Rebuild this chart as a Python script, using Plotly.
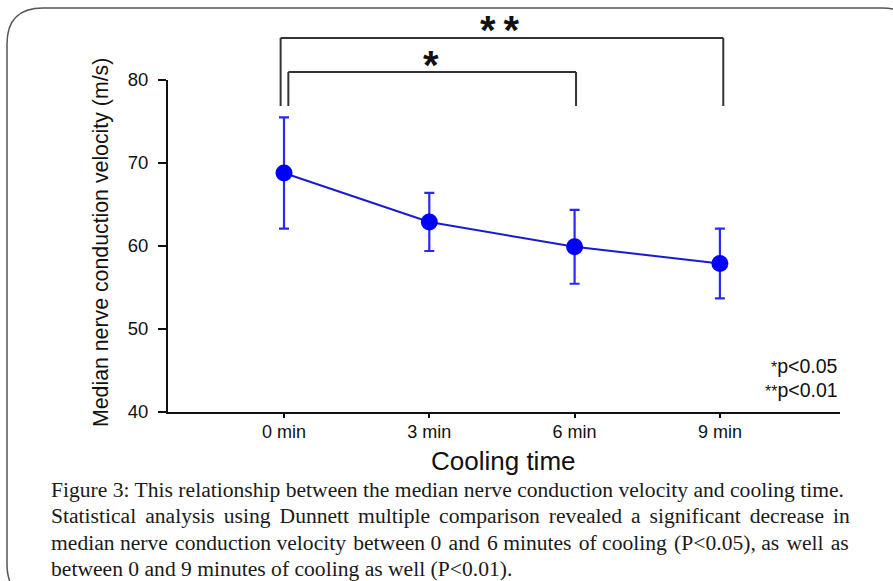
import plotly.graph_objects as go

# ---- data ----
cooling_minutes = [0, 3, 6, 9]
tick_labels = ["0 min", "3 min", "6 min", "9 min"]
mean_velocity = [68.8, 62.9, 59.9, 57.9]
sd_velocity = [6.7, 3.5, 4.45, 4.2]
y_ticks = [40, 50, 60, 70, 80]

caption_lines = [
    "Figure 3: This relationship between the median nerve conduction velocity and cooling time.",
    "Statistical analysis using Dunnett multiple comparison revealed a significant decrease in",
    "median nerve conduction velocity between 0 and 6 minutes of cooling (P<0.05), as well as",
    "between 0 and 9 minutes of cooling as well (P<0.01).",
]
caption_hair_spaces = [0, 20, 8, 0]  # total hair spaces spread over word gaps (justification)

W, H = 893, 581
L, R, T, B = 168, 53, 80, 169
PW, PH = W - L - R, H - T - B


def px_x(px):
    return (px - L) / PW


def px_y(py):
    return (H - B - py) / PH


def justify(line, n):
    words = line.split(" ")
    g = len(words) - 1
    if n == 0 or g == 0:
        return line
    out = words[0]
    for i in range(g):
        k = (i + 1) * n // g - i * n // g
        out += " " + "\u200a" * k + words[i + 1]
    return out


fig = go.Figure()
fig.add_trace(go.Scatter(
    x=cooling_minutes, y=mean_velocity,
    mode="lines+markers",
    line=dict(color="#1a1ad0", width=2),
    marker=dict(color="#0000ff", size=17),
    error_y=dict(type="data", array=sd_velocity, visible=True,
                 color="#2a2aee", thickness=2.2, width=5),
    showlegend=False, cliponaxis=False,
))

font_sans = "Liberation Sans, Arial, sans-serif"

fig.update_layout(
    width=W, height=H,
    margin=dict(l=L, r=R, t=T, b=B, autoexpand=False),
    paper_bgcolor="white", plot_bgcolor="white",
    xaxis=dict(range=[-2.395, 11.48], tickvals=cooling_minutes, ticktext=tick_labels,
               showgrid=False, zeroline=False, showline=True, linecolor="#111",
               linewidth=2, ticks="outside", ticklen=4, tickwidth=2, tickcolor="#111",
               ticklabelstandoff=-2,
               tickfont=dict(family=font_sans, size=18, color="#111")),
    yaxis=dict(range=[40, 80], tickvals=y_ticks, showgrid=False, zeroline=False,
               showline=True, linecolor="#111", linewidth=2, ticks="outside",
               ticklen=8, tickwidth=2, tickcolor="#111", ticklabelstandoff=6,
               tickfont=dict(family=font_sans, size=18.5, color="#111")),
)

ann = []
# axis titles
ann.append(dict(text="Median nerve conduction velocity (m/s)", textangle=-90,
                xref="paper", yref="paper", x=px_x(101), y=px_y(243),
                xanchor="center", yanchor="middle", showarrow=False,
                font=dict(family=font_sans, size=21.3, color="#111")))
ann.append(dict(text="Cooling time", xref="paper", yref="paper",
                x=px_x(503), y=px_y(461), xanchor="center", yanchor="middle",
                showarrow=False, font=dict(family=font_sans, size=26, color="#111")))
# p-value legend
ann.append(dict(text="<span style='font-size:16px'>*</span>p&lt;0.05", xref="paper", yref="paper",
                x=px_x(840), y=px_y(366), xanchor="right", yanchor="middle",
                showarrow=False, font=dict(family=font_sans, size=19.5, color="#111")))
ann.append(dict(text="<span style='font-size:16px'>**</span>p&lt;0.01", xref="paper", yref="paper",
                x=px_x(840), y=px_y(390), xanchor="right", yanchor="middle",
                showarrow=False, font=dict(family=font_sans, size=19.5, color="#111")))
# significance stars
ann.append(dict(text="<b>*\u2009*</b>", xref="x", yref="paper", x=4.46, y=px_y(30),
                xanchor="center", yanchor="middle", showarrow=False,
                font=dict(family=font_sans, size=40, color="#111")))
ann.append(dict(text="<b>*</b>", xref="x", yref="paper", x=3.03, y=px_y(65),
                xanchor="center", yanchor="middle", showarrow=False,
                font=dict(family=font_sans, size=40, color="#111")))
# caption
for i, line in enumerate(caption_lines):
    txt = justify(line, caption_hair_spaces[i]).replace("<", "&lt;")
    ann.append(dict(text=txt, xref="paper", yref="paper",
                    x=px_x(49), y=px_y(490 + i * 26.3), xanchor="left", yanchor="middle",
                    showarrow=False,
                    font=dict(family="Liberation Serif, Times New Roman, serif", size=21.6,
                              color="#1a1a1a")))
fig.update_layout(annotations=ann)

# brackets
shapes = []
br_col = "#333"


def bracket(xa, xb, ytop_px, ybot_px):
    yt, yb = px_y(ytop_px), px_y(ybot_px)
    out = []
    for (x0, y0, x1, y1) in [(xa, yb, xa, yt), (xa, yt, xb, yt), (xb, yt, xb, yb)]:
        out.append(dict(type="line", xref="x", yref="paper", x0=x0, y0=y0, x1=x1, y1=y1,
                        line=dict(color=br_col, width=2)))
    return out


shapes += bracket(-0.07, 9.07, 38, 106)
shapes += bracket(0.09, 6.03, 72, 106)

# rounded frame
x0, y0, x1, y1, r = 7, 8, 918, 600, 36
pts = [
    ("M", [(x0, y0 + r)]),
    ("Q", [(x0, y0), (x0 + r, y0)]),
    ("L", [(x1 - r, y0)]),
    ("Q", [(x1, y0), (x1, y0 + r)]),
    ("L", [(x1, y1 - r)]),
    ("Q", [(x1, y1), (x1 - r, y1)]),
    ("L", [(x0 + r, y1)]),
    ("Q", [(x0, y1), (x0, y1 - r)]),
]
path = ""
for cmd, ps in pts:
    path += cmd + " " + " ".join(f"{px_x(a):.5f},{px_y(b):.5f}" for a, b in ps) + " "
path += "Z"
shapes.append(dict(type="path", xref="paper", yref="paper", path=path,
                   line=dict(color="#555", width=1.5)))
fig.update_layout(shapes=shapes)

fig.write_html("out.html", config={"displayModeBar": False},
               post_script="document.body.style.margin='0';document.body.style.overflow='hidden';")
